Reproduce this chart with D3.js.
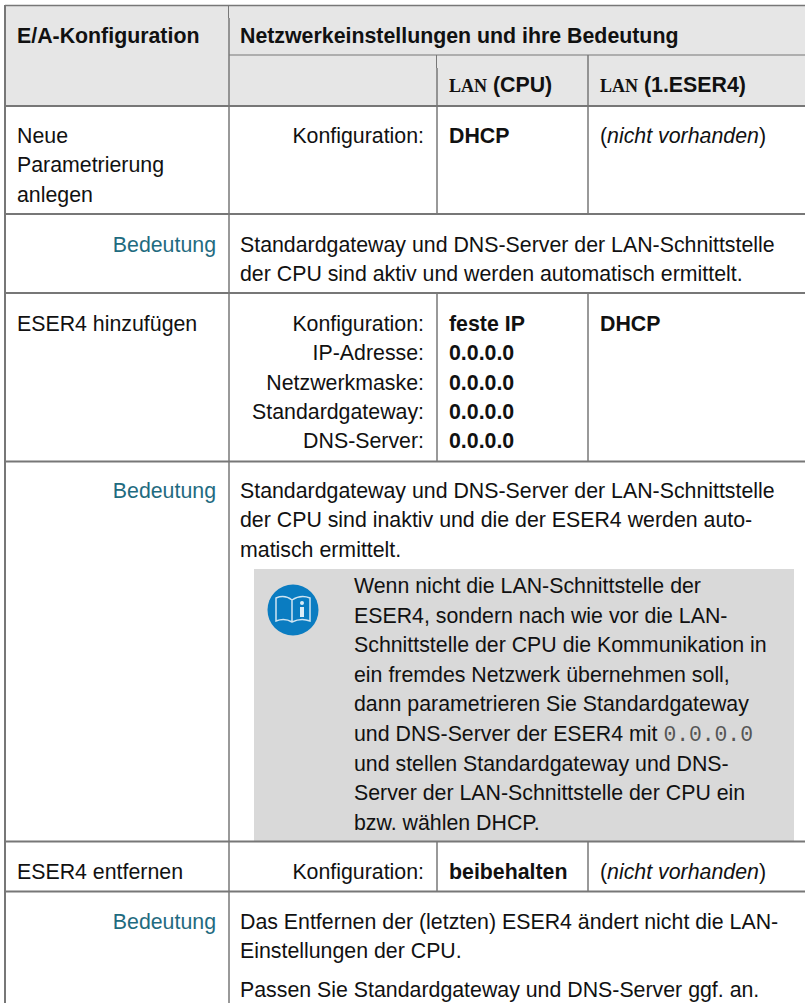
<!DOCTYPE html>
<html>
<head>
<meta charset="utf-8">
<script src="https://d3js.org/d3.v7.min.js"></script>
<style>
html, body { margin: 0; padding: 0; background: #fff; }
svg { display: block; }
text { font-family: "Liberation Sans", Arial, sans-serif; font-size: 21.33px; fill: #111; }
.mono { font-family: "Liberation Mono", monospace; fill: #555; }
.caps { font-family: "Liberation Serif", serif; font-size: 18px; }
</style>
</head>
<body>
<div id="table"></div>
<script>
var width = 805, height = 1003;

// table content
var headerLeft = "E/A-Konfiguration";
var headerRight = "Netzwerkeinstellungen und ihre Bedeutung";
var actions = [["Neue", "Parametrierung", "anlegen"], ["ESER4 hinzufügen"], ["ESER4 entfernen"]];
var meaningLabel = "Bedeutung";
var settingLabels = [["Konfiguration:"], ["Konfiguration:", "IP-Adresse:", "Netzwerkmaske:", "Standardgateway:", "DNS-Server:"], ["Konfiguration:"]];
var cpuValues = [["DHCP"], ["feste IP", "0.0.0.0", "0.0.0.0", "0.0.0.0", "0.0.0.0"], ["beibehalten"]];
var eserValues = [null, "DHCP", null];
var missingValue = "nicht vorhanden";
var meanings = [
    ["Standardgateway und DNS-Server der LAN-Schnittstelle", "der CPU sind aktiv und werden automatisch ermittelt."],
    ["Standardgateway und DNS-Server der LAN-Schnittstelle", "der CPU sind inaktiv und die der ESER4 werden auto-", "matisch ermittelt."],
    ["Das Entfernen der (letzten) ESER4 ändert nicht die LAN-", "Einstellungen der CPU."]
];
var lastNote = "Passen Sie Standardgateway und DNS-Server ggf. an.";
var noteLinesBefore = [
    "Wenn nicht die LAN-Schnittstelle der", "ESER4, sondern nach wie vor die LAN-", "Schnittstelle der CPU die Kommunikation in",
    "ein fremdes Netzwerk übernehmen soll,", "dann parametrieren Sie Standardgateway"
];
var noteLinesAfter = [
    "und stellen Standardgateway und DNS-", "Server der LAN-Schnittstelle der CPU ein", "bzw. wählen DHCP."
];

var svg = d3.select("#table").append("svg")
    .attr("width", width)
    .attr("height", height);

var col = { a: 5, b: 229, c: 437, d: 588, end: 805 };
var lineColor = "#777";

// header and note backgrounds
svg.append("rect").attr("x", col.a).attr("y", 6).attr("width", col.end - col.a).attr("height", 100).attr("fill", "#e6e6e6");
svg.append("rect").attr("x", 254).attr("y", 569).attr("width", 794 - 254).attr("height", 272).attr("fill", "#d9d9d9");

function hline(x1, x2, y, w) {
    svg.append("line").attr("x1", x1).attr("x2", x2).attr("y1", y).attr("y2", y)
        .attr("stroke", lineColor).attr("stroke-width", w);
}
function vline(x, y1, y2, w) {
    svg.append("line").attr("x1", x).attr("x2", x).attr("y1", y1).attr("y2", y2)
        .attr("stroke", lineColor).attr("stroke-width", w);
}

// outer and row lines
hline(col.a, col.end, 5.5, 1.5);
hline(col.b, col.end, 55, 1);
[106, 214, 293, 461.5, 841.5, 891.5].forEach(function(y) { hline(col.a, col.end, y, 2); });
vline(col.a, 5, height, 2);
vline(col.b - 0.5, 5, 18, 1);
vline(col.b, 18, height, 1.5);
vline(col.c - 0.5, 55, 68, 1);
vline(col.c, 68, 214, 1.5);
vline(col.d, 55, 214, 1.5);
vline(col.c, 293, 461.5, 1.5);
vline(col.d, 293, 461.5, 1.5);
vline(col.c, 841.5, 891.5, 1.5);
vline(col.d, 841.5, 891.5, 1.5);

function label(x, y, str, opts) {
    opts = opts || {};
    return svg.append("text").attr("x", x).attr("y", y)
        .attr("text-anchor", opts.anchor || "start")
        .style("font-weight", opts.bold ? "bold" : null)
        .style("font-style", opts.italic ? "italic" : null)
        .style("fill", opts.fill || null)
        .text(str);
}

// header text
label(17, 42.5, headerLeft, { bold: true });
label(240, 42.5, headerRight, { bold: true });
[[449, "(CPU)"], [600, "(1.ESER4)"]].forEach(function(d) {
    var t = label(d[0], 92, "", { bold: true });
    t.append("tspan").attr("class", "caps").text("LAN");
    t.append("tspan").text(" " + d[1]);
});

// configuration rows
var rowBaseline = [143, 331, 879];
var step = 29.3;
actions.forEach(function(lines, r) {
    lines.forEach(function(s, i) { label(17, rowBaseline[r] + i * step, s); });
    settingLabels[r].forEach(function(s, i) { label(424, rowBaseline[r] + i * step, s, { anchor: "end" }); });
    cpuValues[r].forEach(function(s, i) { label(449, rowBaseline[r] + i * step, s, { bold: true }); });
    if (eserValues[r]) {
        label(600, rowBaseline[r], eserValues[r], { bold: true });
    } else {
        var t = label(600, rowBaseline[r], "(");
        t.append("tspan").style("font-style", "italic").text(missingValue);
        t.append("tspan").text(")");
    }
});

// meaning rows
var meaningBaseline = [252, 498, 929];
meanings.forEach(function(lines, r) {
    label(216, meaningBaseline[r], meaningLabel, { anchor: "end", fill: "#1f6b80" });
    lines.forEach(function(s, i) { label(240, meaningBaseline[r] + i * step, s); });
});
label(240, 997, lastNote);

// note box text
var noteX = 354, noteY = 593, noteStep = 29.6;
noteLinesBefore.forEach(function(s, i) { label(noteX, noteY + i * noteStep, s); });
var mixed = label(noteX, noteY + 5 * noteStep, "und DNS-Server der ESER4 mit ");
mixed.append("tspan").attr("class", "mono").text("0.0.0.0");
noteLinesAfter.forEach(function(s, i) { label(noteX, noteY + (6 + i) * noteStep, s); });

// book icon
var icon = svg.append("g").attr("transform", "translate(293,610)");
icon.append("circle").attr("r", 25.5).attr("fill", "#0a7cc1");
var bookPath = d3.path();
bookPath.moveTo(-1, -10);
bookPath.bezierCurveTo(-6, -14, -12, -14, -17, -12);
bookPath.lineTo(-17, 11);
bookPath.bezierCurveTo(-12, 9, -6, 9, -1, 12);
bookPath.bezierCurveTo(5, 9, 12, 9, 17, 11);
bookPath.lineTo(17, -12);
bookPath.bezierCurveTo(12, -14, 5, -14, -1, -10);
bookPath.lineTo(-1, 12);
icon.append("path").attr("d", bookPath.toString()).attr("fill", "none").attr("stroke", "#cfe4f2").attr("stroke-width", 1.5);
icon.append("circle").attr("cx", 9).attr("cy", -7).attr("r", 2).attr("fill", "#dcecf6");
icon.append("rect").attr("x", 7).attr("y", -3).attr("width", 4).attr("height", 10).attr("fill", "#dcecf6");
</script>
</body>
</html>
